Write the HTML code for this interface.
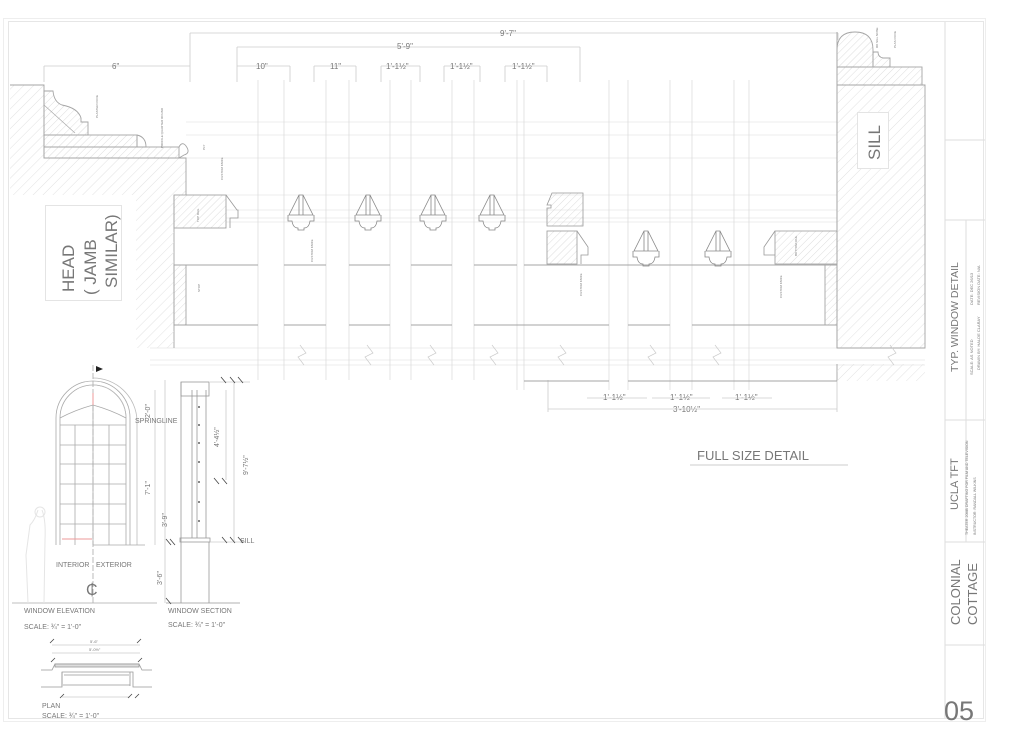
<!DOCTYPE html>
<html><head><meta charset="utf-8"><style>
html,body{margin:0;padding:0;background:#fff;}
svg{display:block;}
text{font-family:"Liberation Sans",sans-serif;fill:#777;}
</style></head><body>
<svg width="1024" height="731" viewBox="0 0 1024 731" xmlns="http://www.w3.org/2000/svg">
<defs>
<pattern id="h" width="7" height="7" patternUnits="userSpaceOnUse" patternTransform="rotate(45)">
<line x1="0" y1="0" x2="0" y2="7" stroke="#e2e2e2" stroke-width="1"/></pattern>
<pattern id="h2" width="5" height="5" patternUnits="userSpaceOnUse" patternTransform="rotate(45)">
<line x1="0" y1="0" x2="0" y2="5" stroke="#d4d4d4" stroke-width="0.8"/></pattern>
<g id="mun" fill="none" stroke="#888" stroke-width="0.8">
<path d="M-2,0 L-12,20 L12,20 L2,0 Z M-2,0 V20 M2,0 V20"/>
<path d="M-13,20 V26 H-9 Q-8,33 -3,33 V35 H3 V33 Q8,33 9,26 H13 V20"/>
</g>
</defs>
<rect x="3.5" y="18.5" width="982" height="703" fill="none" stroke="#eee"/>
<rect x="8.5" y="21.5" width="975" height="697" fill="none" stroke="#e6e6e6"/>
<g stroke="#ddd" fill="none">
<line x1="945" y1="22" x2="945" y2="718"/>
<line x1="945" y1="140" x2="985" y2="140"/>
<line x1="945" y1="220" x2="985" y2="220"/>
<line x1="966" y1="220" x2="966" y2="420"/>
<line x1="945" y1="420" x2="985" y2="420"/>
<line x1="945" y1="542" x2="985" y2="542"/>
<line x1="945" y1="645" x2="985" y2="645"/>
<line x1="966" y1="420" x2="966" y2="542"/>
</g>
<g>
<text transform="translate(958,372) rotate(-90)" font-size="10.5" fill="#777">TYP. WINDOW DETAIL</text>
<text transform="translate(973,375) rotate(-90)" font-size="4" fill="#aaa">SCALE: AS NOTED</text>
<text transform="translate(980,370) rotate(-90)" font-size="4" fill="#aaa">DRAWN BY: HALDE CLARAY</text>
<text transform="translate(973,305) rotate(-90)" font-size="4" fill="#aaa">DATE: DEC 26/13</text>
<text transform="translate(980,305) rotate(-90)" font-size="4" fill="#aaa">REVISION DATE: N/A</text>
<text transform="translate(958,510) rotate(-90)" font-size="11" fill="#777">UCLA TFT</text>
<text transform="translate(968,535) rotate(-90)" font-size="3.6" fill="#aaa">THEATER 20MB DRAFTING FOR FILM AND TELEVISION</text>
<text transform="translate(976,535) rotate(-90)" font-size="3.6" fill="#aaa">INSTRUCTOR: RANDALL WILKINS</text>
<text transform="translate(960,625) rotate(-90)" font-size="13" fill="#666">COLONIAL</text>
<text transform="translate(977,625) rotate(-90)" font-size="13" fill="#666">COTTAGE</text>
<text x="944" y="720" font-size="27" fill="#666">05</text>
</g>
<g stroke="#ccc" stroke-width="0.8" fill="none">
<line x1="190" y1="33" x2="838" y2="33"/><line x1="190" y1="33" x2="190" y2="82"/><line x1="838" y1="33" x2="838" y2="40"/>
<line x1="237" y1="47" x2="580" y2="47"/><line x1="237" y1="47" x2="237" y2="82"/><line x1="580" y1="47" x2="580" y2="82"/>
<line x1="44" y1="66" x2="190" y2="66"/><line x1="44" y1="66" x2="44" y2="82"/>
<line x1="237" y1="66" x2="290" y2="66"/><line x1="314" y1="66" x2="356" y2="66"/>
<line x1="381" y1="66" x2="420" y2="66"/><line x1="444" y1="66" x2="480" y2="66"/><line x1="505" y1="66" x2="547" y2="66"/>
<line x1="290" y1="66" x2="290" y2="82"/><line x1="314" y1="66" x2="314" y2="82"/><line x1="356" y1="66" x2="356" y2="82"/><line x1="381" y1="66" x2="381" y2="82"/><line x1="420" y1="66" x2="420" y2="82"/><line x1="444" y1="66" x2="444" y2="82"/><line x1="480" y1="66" x2="480" y2="82"/><line x1="505" y1="66" x2="505" y2="82"/><line x1="547" y1="66" x2="547" y2="82"/>
</g>
<g font-size="8" fill="#888">
<text x="500" y="36">9'-7"</text>
<text x="397" y="49">5'-9"</text>
<text x="112" y="69">6"</text>
<text x="256" y="69">10"</text>
<text x="330" y="69">11"</text>
<text x="386" y="69">1'-1½"</text>
<text x="450" y="69">1'-1½"</text>
<text x="512" y="69">1'-1½"</text>
<text x="603" y="400">1'-1½"</text>
<text x="670" y="400">1'-1½"</text>
<text x="735" y="400">1'-1½"</text>
<text x="673" y="412">3'-10½"</text>
</g>
<g stroke="#ccc" stroke-width="0.8">
<line x1="548" y1="409" x2="837" y2="409"/><line x1="587" y1="398" x2="647" y2="398"/><line x1="652" y1="398" x2="710" y2="398"/><line x1="722" y1="398" x2="772" y2="398"/>
<line x1="548" y1="380" x2="548" y2="412"/><line x1="837" y1="380" x2="837" y2="412"/>
</g>
<g stroke="#e6e6e6" stroke-width="0.8">
<line x1="186" y1="122" x2="837" y2="122"/>
<line x1="186" y1="135" x2="837" y2="135"/>
<line x1="186" y1="158" x2="837" y2="158"/>
<line x1="186" y1="195" x2="837" y2="195"/>
<line x1="226" y1="210" x2="837" y2="210"/>
<line x1="226" y1="218" x2="837" y2="218"/>
<line x1="226" y1="222" x2="837" y2="222"/>
<line x1="150" y1="348" x2="925" y2="348"/>
<line x1="150" y1="360" x2="925" y2="360"/>
<line x1="150" y1="365" x2="925" y2="365"/>
</g>
<g stroke="#ddd" stroke-width="0.8">
<line x1="258" y1="80" x2="258" y2="380"/><line x1="284" y1="80" x2="284" y2="380"/>
<line x1="326" y1="80" x2="326" y2="380"/><line x1="349" y1="80" x2="349" y2="380"/>
<line x1="390" y1="80" x2="390" y2="380"/><line x1="411" y1="80" x2="411" y2="380"/>
<line x1="452" y1="80" x2="452" y2="380"/><line x1="474" y1="80" x2="474" y2="380"/>
<line x1="517" y1="80" x2="517" y2="390"/><line x1="524" y1="80" x2="524" y2="390"/>
<line x1="609" y1="80" x2="609" y2="390"/><line x1="628" y1="80" x2="628" y2="390"/>
<line x1="670" y1="80" x2="670" y2="390"/><line x1="692" y1="80" x2="692" y2="390"/>
<line x1="734" y1="80" x2="734" y2="390"/><line x1="749" y1="80" x2="749" y2="390"/>
</g>
<g stroke="#a5a5a5" stroke-width="0.9" fill="none">
<line x1="174" y1="265" x2="258" y2="265"/><line x1="284" y1="265" x2="326" y2="265"/><line x1="349" y1="265" x2="390" y2="265"/><line x1="411" y1="265" x2="452" y2="265"/><line x1="474" y1="265" x2="517" y2="265"/><line x1="524" y1="265" x2="837" y2="265"/>
<line x1="174" y1="325" x2="258" y2="325"/><line x1="284" y1="325" x2="326" y2="325"/><line x1="349" y1="325" x2="390" y2="325"/><line x1="411" y1="325" x2="452" y2="325"/><line x1="474" y1="325" x2="609" y2="325"/><line x1="628" y1="325" x2="670" y2="325"/><line x1="692" y1="325" x2="837" y2="325"/>
<line x1="524" y1="381" x2="609" y2="381"/><line x1="628" y1="381" x2="837" y2="381"/>
<line x1="174" y1="195" x2="174" y2="348"/>
<line x1="837" y1="32" x2="837" y2="348"/><line x1="837" y1="364" x2="837" y2="381"/>
</g>
<path d="M10,85 L44,85 L44,158 L186,158 L186,195 L174,195 L174,348 L136,348 L136,195 L10,195 Z" fill="url(#h)" stroke="none"/>
<path d="M10,85 H44 V158 H186 V195" fill="none" stroke="#a5a5a5" stroke-width="0.9"/>
<g stroke="#a5a5a5" stroke-width="0.9" fill="url(#h2)">
<path d="M44,91 H53 Q54,102 62,105 Q78,108 81,118 V122 H88 V135 H44 Z"/>
<rect x="44" y="135" width="93" height="12"/>
<rect x="44" y="147" width="135" height="11"/>
<path d="M137,135 V147 H146 Q146,137 137,135" fill="none"/>
<path d="M179,147 Q182,141 186,146 Q191,153 184,155 L179,158" fill="none"/>
<rect x="174" y="195" width="52" height="33"/>
<rect x="174" y="265" width="12" height="60"/>
</g>
<line x1="44" y1="105" x2="75" y2="133" stroke="#aaa" stroke-width="0.7"/>
<path d="M226,195 L237,210 H238 V218 H230 V228" fill="none" stroke="#999" stroke-width="0.8"/>
<rect x="45.5" y="205.5" width="76" height="95" fill="#fff" stroke="#e4e4e4"/>
<g font-size="17" fill="#666">
<text transform="translate(74,292) rotate(-90)">HEAD</text>
<text transform="translate(96,295) rotate(-90)">( JAMB</text>
<text transform="translate(117,288) rotate(-90)">SIMILAR)</text>
</g>
<use href="#mun" x="301" y="195"/>
<use href="#mun" x="368" y="195"/>
<use href="#mun" x="433" y="195"/>
<use href="#mun" x="492" y="195"/>
<use href="#mun" x="646" y="231"/>
<use href="#mun" x="718" y="231"/>
<g stroke="#999" stroke-width="0.8" fill="url(#h2)">
<path d="M552,193 L559,193 H583 V226 H547 V208 L551,208 V205 L547,205 Z"/>
<rect x="547" y="231" width="30" height="33"/>
<path d="M577,231 L588,247 H588 V255 H581 V264" fill="none"/>
<path d="M775,231 H837 V264 H775 Z"/>
<path d="M775,231 L764,247 V255 H775" fill="none"/>
</g>
<g stroke="#a5a5a5" stroke-width="0.9">
<path d="M837,85 H925 V348 H837 Z" fill="url(#h)"/>
<path d="M837,364 H925 V381 H837 Z" fill="url(#h)" stroke="none"/>
<rect x="825" y="265" width="12" height="60" fill="url(#h2)"/>
<path d="M837,50 Q837,32 855,32 Q873,32 873,50 V67 H837 Z" fill="url(#h2)"/>
<path d="M873,52 H878 Q878,57 883,58 H890 V67 H873 Z" fill="url(#h2)"/>
<rect x="837" y="67" width="85" height="18" fill="url(#h2)"/>
</g>
<rect x="857.5" y="112.5" width="31" height="56" fill="#fff" stroke="#e4e4e4"/>
<text transform="translate(880,160) rotate(-90)" font-size="17" fill="#666">SILL</text>
<g font-size="3" fill="#999">
<text transform="translate(98,118) rotate(-90)">PLASTER COVE</text>
<text transform="translate(163,148) rotate(-90)">PROFILE QUARTER ROUND</text>
<text transform="translate(205,150) rotate(-90)">PLY</text>
<text transform="translate(223,180) rotate(-90)">CUSTOM KNIFE</text>
<text transform="translate(199,222) rotate(-90)">TOP RAIL</text>
<text transform="translate(313,262) rotate(-90)">CUSTOM KNIFE</text>
<text transform="translate(200,292) rotate(-90)">STOP</text>
<text transform="translate(582,296) rotate(-90)">CUSTOM KNIFE</text>
<text transform="translate(782,298) rotate(-90)">CUSTOM KNIFE</text>
<text transform="translate(797,256) rotate(-90)">BOTTOM RAIL</text>
<text transform="translate(878,48) rotate(-90)">RD SILL NOSE</text>
<text transform="translate(896,48) rotate(-90)">PLAS COVE</text>
</g>
<g stroke="#ccc" stroke-width="0.7" fill="none">
<path d="M300,345 L306,353 L298,357 L304,365"/><path d="M367,345 L373,353 L365,357 L371,365"/><path d="M430,345 L436,353 L428,357 L434,365"/><path d="M492,345 L498,353 L490,357 L496,365"/><path d="M560,345 L566,353 L558,357 L564,365"/><path d="M650,345 L656,353 L648,357 L654,365"/><path d="M715,345 L721,353 L713,357 L719,365"/><path d="M890,345 L896,353 L888,357 L894,365"/>
</g>
<text x="697" y="460" font-size="13" fill="#666">FULL SIZE DETAIL</text>
<line x1="690" y1="465" x2="848" y2="465" stroke="#ccc"/>
<g stroke="#aaa" stroke-width="0.8" fill="none">
<path d="M60,545 V418 A33,33 0 0 1 126,418 V545"/>
<path d="M56,545 V418 A37,37 0 0 1 130,418 V545"/>
<path d="M126,418 A33,33 0 0 0 93,385 M93,378 A44,44 0 0 1 137,420 V545" stroke="#bbb"/>
<line x1="60" y1="425" x2="126" y2="425"/>
<line x1="75" y1="425" x2="75" y2="545"/><line x1="93" y1="405" x2="93" y2="545"/><line x1="109" y1="425" x2="109" y2="545"/>
<line x1="60" y1="445" x2="126" y2="445"/><line x1="60" y1="464" x2="126" y2="464"/><line x1="60" y1="484" x2="126" y2="484"/><line x1="60" y1="504" x2="126" y2="504"/><line x1="60" y1="524" x2="126" y2="524"/>
<path d="M60,418 Q75,410 93,405 Q111,410 126,418" />
<line x1="93" y1="545" x2="145" y2="545"/>
<line x1="93" y1="365" x2="93" y2="605" stroke-dasharray="6,2"/>
<line x1="12" y1="603" x2="157" y2="603"/>
<line x1="155" y1="390" x2="155" y2="545" stroke="#ccc"/>
<line x1="165" y1="380" x2="165" y2="603" stroke="#ccc"/>
</g>
<line x1="93" y1="393" x2="93" y2="405" stroke="#e99"/>
<line x1="62" y1="539" x2="92" y2="539" stroke="#e99"/>
<path d="M96,366 L103,369 L96,372 Z" fill="#222"/>
<path d="M38,510 Q35,520 30,525 L26,555 L28,603 M42,510 Q46,520 45,540 L44,603" stroke="#e5e5e5" fill="none"/>
<circle cx="40" cy="512" r="5" stroke="#e5e5e5" fill="none"/>
<g font-size="7" fill="#888">
<text x="135" y="423">SPRINGLINE</text>
<text x="56" y="567">INTERIOR</text>
<text x="96" y="567">EXTERIOR</text>
<text transform="translate(150,418) rotate(-90)">2'-0"</text>
<text transform="translate(150,495) rotate(-90)">7'-1"</text>
<text transform="translate(167,527) rotate(-90)">3'-9"</text>
<text transform="translate(162,585) rotate(-90)">3'-6"</text>
<text x="24" y="613">WINDOW ELEVATION</text>
<text x="24" y="629">SCALE: ¾" = 1'-0"</text>
<text x="168" y="613">WINDOW SECTION</text>
<text x="168" y="627">SCALE: ¾" = 1'-0"</text>
<text x="42" y="708">PLAN</text>
<text x="42" y="718">SCALE: ¾" = 1'-0"</text>
<text transform="translate(248,475) rotate(-90)">9'-7½"</text>
<text transform="translate(219,447) rotate(-90)">4'-4½"</text>
<text x="240" y="543">SILL</text>
</g>
<text x="86" y="595" font-size="16" fill="#777">₵</text>
<g stroke="#999" stroke-width="0.8" fill="none">
<rect x="181" y="382" width="28" height="14"/>
<line x1="181" y1="382" x2="181" y2="603"/>
<line x1="192" y1="390" x2="192" y2="538"/><line x1="197" y1="390" x2="197" y2="538"/>
<line x1="206" y1="390" x2="206" y2="538"/>
<rect x="180" y="538" width="30" height="4"/>
<line x1="209" y1="542" x2="209" y2="603"/>
<line x1="166" y1="603" x2="240" y2="603"/>
<line x1="210" y1="382" x2="250" y2="382" stroke="#ccc"/>
<line x1="234" y1="382" x2="234" y2="542" stroke="#ccc"/>
<line x1="210" y1="542" x2="245" y2="542" stroke="#ccc"/>
<line x1="226" y1="390" x2="226" y2="480" stroke="#ccc"/>
</g>
<g fill="#333"><circle cx="199" cy="407" r="0.9"/><circle cx="199" cy="425" r="0.9"/><circle cx="199" cy="443" r="0.9"/><circle cx="199" cy="462" r="0.9"/><circle cx="199" cy="482" r="0.9"/><circle cx="199" cy="502" r="0.9"/><circle cx="199" cy="521" r="0.9"/></g>
<g stroke="#444" stroke-width="0.8">
<line x1="221" y1="377" x2="226" y2="383"/><line x1="230" y1="377" x2="235" y2="383"/><line x1="238" y1="377" x2="243" y2="383"/>
<line x1="214" y1="478" x2="219" y2="484"/><line x1="222" y1="478" x2="227" y2="484"/>
<line x1="222" y1="537" x2="227" y2="543"/><line x1="230" y1="537" x2="235" y2="543"/><line x1="238" y1="537" x2="243" y2="543"/>
<line x1="166" y1="539" x2="171" y2="545"/><line x1="170" y1="539" x2="175" y2="545"/>
<line x1="166" y1="598" x2="171" y2="604"/>
</g>
<g stroke="#999" stroke-width="0.8" fill="none">
<line x1="52" y1="645" x2="140" y2="645" stroke="#ccc"/>
<line x1="52" y1="653" x2="140" y2="653" stroke="#ccc"/>
<path d="M41,670 H52 L55,664 H139 L142,670 H152"/>
<rect x="55" y="664" width="84" height="3" fill="#ddd"/>
<path d="M41,687 H62 V672 H133 V687 H152"/>
<line x1="63" y1="685" x2="130" y2="685"/>
<line x1="62" y1="672" x2="62" y2="686"/><line x1="130" y1="672" x2="130" y2="686"/>
<line x1="64" y1="675" x2="129" y2="675"/>
<line x1="62" y1="697" x2="130" y2="697" stroke="#ccc"/>
</g>
<g stroke="#444" stroke-width="0.8">
<line x1="50" y1="643" x2="54" y2="639"/><line x1="137" y1="643" x2="141" y2="639"/>
<line x1="51" y1="662" x2="55" y2="658"/><line x1="138" y1="662" x2="142" y2="658"/>
<line x1="60" y1="698" x2="64" y2="694"/><line x1="128" y1="698" x2="132" y2="694"/><line x1="135" y1="698" x2="139" y2="694"/>
</g>
<g font-size="4" fill="#888"><text x="90" y="643">5'-6"</text><text x="89" y="651">5'-0½"</text></g>
</svg>
</body></html>
